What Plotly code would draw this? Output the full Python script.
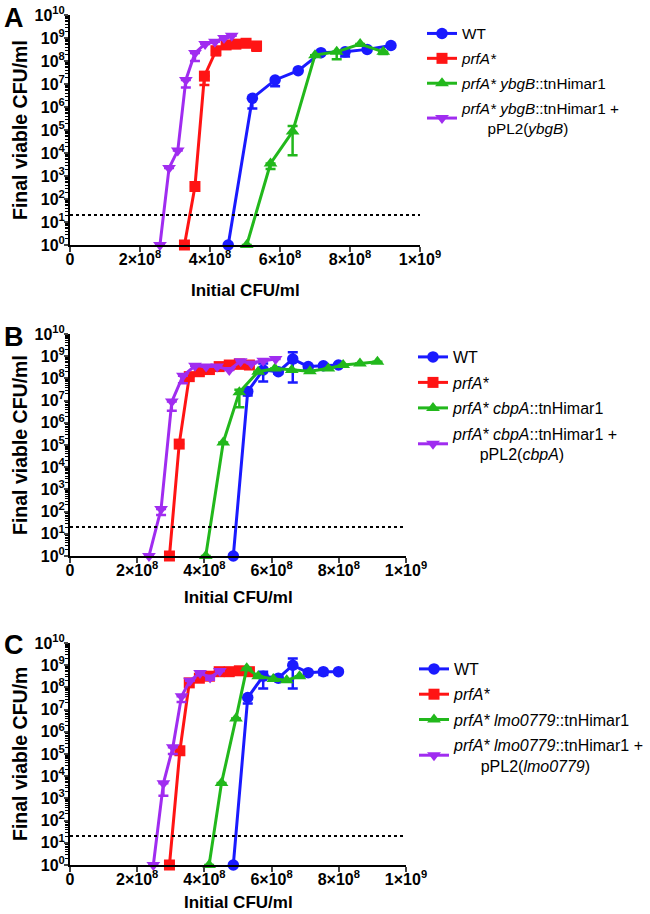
import plotly.graph_objects as go

W, H = 650, 914
FONT = "Liberation Sans"

BLUE = "#1a1aff"
RED = "#ff1414"
GREEN = "#22b81c"
PURPLE = "#a02cf0"

LOD = 20  # detection limit (dotted line)

# ---------------- Panel A ----------------
A_wt_x = [4.52e8, 5.21e8, 5.86e8, 6.52e8, 7.17e8, 7.86e8, 8.49e8, 9.17e8]
A_wt_y = [1, 2.4e6, 1.5e7, 3.8e7, 2.3e8, 2.5e8, 3.2e8, 4.7e8]
A_wt_lo = [None, 8.7e5, 8e6, None, None, 1.55e8, None, None]
A_wt_hi = [None] * 8

A_prf_x = [3.27e8, 3.57e8, 3.84e8, 4.17e8, 4.46e8, 4.74e8, 5.03e8, 5.33e8]
A_prf_y = [1, 350, 2.2e7, 2.8e8, 5e8, 5.4e8, 5.9e8, 4.5e8]
A_prf_lo = [None, None, 9e6, 1.8e8, None, None, None, 2.8e8]
A_prf_hi = [None] * 8

A_mut_x = [5.05e8, 5.73e8, 6.36e8, 7.00e8, 7.62e8, 8.29e8, 8.95e8]
A_mut_y = [1, 3.5e3, 8.5e4, 1.8e8, 2.5e8, 5.5e8, 2.5e8]
A_mut_lo = [None, 2e3, 8e3, None, 1.2e8, None, 2e8]
A_mut_hi = [None, None, 1.5e5, None, None, None, None]

A_cmp_x = [2.57e8, 2.83e8, 3.08e8, 3.31e8, 3.57e8, 3.86e8, 4.14e8, 4.40e8, 4.62e8]
A_cmp_y = [1, 2.2e3, 1.3e4, 1.5e7, 2.2e8, 5.5e8, 6.8e8, 1.0e9, 1.25e9]
A_cmp_lo = [None, None, None, 7e6, 1e8, None, None, None, None]
A_cmp_hi = [None] * 9

# ---------------- Panel B ----------------
B_wt_x = [4.86e8, 5.29e8, 5.75e8, 6.20e8, 6.63e8, 7.09e8, 7.54e8, 7.99e8]
B_wt_y = [1, 2.6e7, 2.4e8, 2.0e8, 7.4e8, 3.4e8, 3.7e8, 4.0e8]
B_wt_lo = [None, 1.7e7, 7.2e7, 1.6e8, 6.5e7, 2.5e8, 2.8e8, None]
B_wt_hi = [None, None, 4.7e8, None, 1.5e9, None, None, None]

B_prf_x = [2.96e8, 3.25e8, 3.55e8, 3.85e8, 4.15e8, 4.44e8, 4.74e8, 5.04e8, 5.34e8]
B_prf_y = [1, 1.1e5, 1.2e8, 2.0e8, 2.5e8, 3.4e8, 4.0e8, 4.5e8, 4.0e8]
B_prf_lo = [None, None, None, None, None, None, 3e8, 2.8e8, None]
B_prf_hi = [None] * 9

B_mut_x = [4.04e8, 4.56e8, 5.04e8, 5.60e8, 6.10e8, 6.60e8, 7.14e8, 7.69e8, 8.13e8, 8.63e8, 9.15e8]
B_mut_y = [1, 1.3e5, 2.4e7, 2.0e8, 2.8e8, 2.4e8, 2.1e8, 2.8e8, 4.0e8, 4.7e8, 5.6e8]
B_mut_lo = [None, None, 5e6, None, None, None, None, None, None, None, None]
B_mut_hi = [None, None, 3.1e7, None, None, None, None, None, None, None, None]

B_cmp_x = [2.35e8, 2.71e8, 3.03e8, 3.36e8, 3.72e8, 4.05e8, 4.38e8, 4.74e8, 5.08e8, 5.40e8, 5.75e8, 6.12e8]
B_cmp_y = [1, 130, 9e6, 1.3e8, 3.7e8, 3.4e8, 3.4e8, 2.4e8, 6.0e8, 4.7e8, 6.2e8, 7.4e8]
B_cmp_lo = [None, 70, 3.5e6, 6e7, None, None, None, None, None, None, None, None]
B_cmp_hi = [None] * 12

# ---------------- Panel C ----------------
C_wt_x = [4.86e8, 5.29e8, 5.75e8, 6.20e8, 6.63e8, 7.09e8, 7.54e8, 7.99e8]
C_wt_y = [1, 3.5e7, 3.2e8, 2.6e8, 1.0e9, 4.6e8, 5.1e8, 5.1e8]
C_wt_lo = [None, 1.9e7, 9e7, 2e8, 9e7, None, 3.6e8, None]
C_wt_hi = [None, None, 5.1e8, None, 2.0e9, None, None, None]

C_prf_x = [2.96e8, 3.27e8, 3.55e8, 3.85e8, 4.15e8, 4.44e8, 4.74e8, 5.04e8, 5.34e8]
C_prf_y = [1, 1.4e5, 1.6e8, 2.6e8, 3.2e8, 5.1e8, 5.1e8, 5.6e8, 5.1e8]
C_prf_lo = [None] * 9
C_prf_hi = [None] * 9

C_mut_x = [4.14e8, 4.51e8, 4.94e8, 5.26e8, 5.60e8, 6.05e8, 6.45e8, 6.83e8]
C_mut_y = [1, 5e3, 4e6, 7.2e8, 3.2e8, 2.4e8, 2.1e8, 3.2e8]
C_mut_lo = [None] * 8
C_mut_hi = [None] * 8

C_cmp_x = [2.48e8, 2.78e8, 3.06e8, 3.32e8, 3.57e8, 3.87e8, 4.17e8, 4.46e8]
C_cmp_y = [1, 4.8e3, 2e5, 4e7, 2e8, 4.5e8, 2.8e8, 5.5e8]
C_cmp_lo = [None, 1.3e3, 1e5, 2.2e7, None, None, 2.2e8, None]
C_cmp_hi = [None] * 8

Y_TICKS = [10 ** n for n in range(0, 11)]
Y_TEXT = ["10<sup>%d</sup>" % n for n in range(0, 11)]
X_TICKS = [0, 2e8, 4e8, 6e8, 8e8, 1e9]
X_TEXT = ["0", "2×10<sup>8</sup>", "4×10<sup>8</sup>", "6×10<sup>8</sup>", "8×10<sup>8</sup>", "1×10<sup>9</sup>"]

IND = "\u00a0" * 6
NAMES = {
    "A": ["WT", "<i>prfA*</i>", "<i>prfA* ybgB</i>::tnHimar1",
          "<i>prfA* ybgB</i>::tnHimar1 +<br>" + IND + "pPL2(<i>ybgB</i>)"],
    "B": ["WT", "<i>prfA*</i>", "<i>prfA* cbpA</i>::tnHimar1",
          "<i>prfA* cbpA</i>::tnHimar1 +<br>" + IND + "pPL2(<i>cbpA</i>)"],
    "C": ["WT", "<i>prfA*</i>", "<i>prfA* lmo0779</i>::tnHimar1",
          "<i>prfA* lmo0779</i>::tnHimar1 +<br>" + IND + "pPL2(<i>lmo0779</i>)"],
}

PANELS = {
    "A": [(A_wt_x, A_wt_y, A_wt_lo, A_wt_hi), (A_prf_x, A_prf_y, A_prf_lo, A_prf_hi),
          (A_mut_x, A_mut_y, A_mut_lo, A_mut_hi), (A_cmp_x, A_cmp_y, A_cmp_lo, A_cmp_hi)],
    "B": [(B_wt_x, B_wt_y, B_wt_lo, B_wt_hi), (B_prf_x, B_prf_y, B_prf_lo, B_prf_hi),
          (B_mut_x, B_mut_y, B_mut_lo, B_mut_hi), (B_cmp_x, B_cmp_y, B_cmp_lo, B_cmp_hi)],
    "C": [(C_wt_x, C_wt_y, C_wt_lo, C_wt_hi), (C_prf_x, C_prf_y, C_prf_lo, C_prf_hi),
          (C_mut_x, C_mut_y, C_mut_lo, C_mut_hi), (C_cmp_x, C_cmp_y, C_cmp_lo, C_cmp_hi)],
}

STYLE = [
    (BLUE, "circle", 11.5),
    (RED, "square", 11),
    (GREEN, "triangle-up", 12),
    (PURPLE, "triangle-down", 12),
]

# pixel geometry of each panel: (x0, x1, ytop, ybottom)
GEOM = {"A": (70, 420, 15, 245), "B": (70, 406, 334, 556), "C": (70, 406, 643, 865)}
YTITLE = {"A": "Final viable CFU/ml", "B": "Final viable CFU/ml", "C": "Final viable CFU/m"}
XTITLE_Y = {"A": 290, "B": 597, "C": 902}
LETTER_Y = {"A": 18, "B": 337, "C": 645}
LEGEND = {"A": (422, 17, 15.3, 2.0), "B": (413, 340, 16, 1.7), "C": (414, 652, 16, 1.5)}

fig = go.Figure()
layout = dict(
    width=W, height=H, margin=dict(l=0, r=0, t=0, b=0, autoexpand=False),
    paper_bgcolor="white", plot_bgcolor="white",
    font=dict(family=FONT, color="black"),
    showlegend=True,
)
annotations = []

for i, key in enumerate(["A", "B", "C"]):
    sfx = "" if i == 0 else str(i + 1)
    xa, ya = "x" + sfx, "y" + sfx
    leg = "legend" + sfx
    for (xs, ys, lo, hi), (col, sym, size), name in zip(PANELS[key], STYLE, NAMES[key]):
        minus = [0 if l is None else y - l for y, l in zip(ys, lo)]
        plus = [0 if h is None else h - y for y, h in zip(ys, hi)]
        fig.add_trace(go.Scatter(
            x=xs, y=ys, mode="lines+markers", name=name,
            xaxis=xa, yaxis=ya, legend=leg, legendgroup=key + name,
            line=dict(color=col, width=3),
            marker=dict(color=col, symbol=sym, size=size),
            error_y=dict(type="data", symmetric=False, array=plus, arrayminus=minus,
                         color=col, thickness=2.5, width=5),
            cliponaxis=False,
        ))
    fig.add_trace(go.Scatter(
        x=[0, 1e9], y=[LOD, LOD], mode="lines", showlegend=False,
        xaxis=xa, yaxis=ya, line=dict(color="black", width=2, dash="dot"),
        hoverinfo="skip",
    ))
    x0, x1, yt, yb = GEOM[key]
    layout["xaxis" + sfx] = dict(
        domain=[x0 / W, x1 / W], anchor=ya, range=[0, 1e9], automargin=False,
        tickvals=X_TICKS, ticktext=X_TEXT, ticks="outside", ticklen=5, tickwidth=2,
        ticklabelstandoff=-6,
        showline=True, linewidth=2, linecolor="black", showgrid=False, zeroline=False,
        tickfont=dict(size=16, weight="bold", family=FONT),
    )
    layout["yaxis" + sfx] = dict(
        domain=[1 - yb / H, 1 - yt / H], anchor=xa, type="log", range=[0, 10], automargin=False,
        tickvals=Y_TICKS, ticktext=Y_TEXT, ticks="outside", ticklen=4, tickwidth=2,
        ticklabelstandoff=-4,
        showline=True, linewidth=2, linecolor="black", showgrid=False, zeroline=False,
        tickfont=dict(size=16, weight="bold", family=FONT),
        minor=dict(ticks="outside", ticklen=3, tickwidth=1, tickcolor="black",
                   tickvals=[k * 10 ** n for n in range(0, 10) for k in range(2, 10)]),
    )
    lx, ltop, lfs, lgap = LEGEND[key]
    layout[leg] = dict(
        x=lx / W, y=1 - ltop / H, xanchor="left", yanchor="top",
        bgcolor="rgba(0,0,0,0)", font=dict(size=lfs, family=FONT, color="black"),
        tracegroupgap=lgap, itemsizing="trace",
    )
    # panel letter
    annotations.append(dict(
        text="<b>" + key + "</b>", x=14 / W, y=1 - LETTER_Y[key] / H, xref="paper", yref="paper",
        xanchor="center", yanchor="middle", showarrow=False,
        font=dict(size=27, family=FONT, color="black"),
    ))
    # axis titles
    annotations.append(dict(
        text="<b>Initial CFU/ml</b>", x=(x0 + x1) / 2 / W, y=1 - XTITLE_Y[key] / H,
        xref="paper", yref="paper", xanchor="center", yanchor="middle", showarrow=False,
        font=dict(size=17, family=FONT, color="black"),
    ))
    annotations.append(dict(
        text="<b>" + YTITLE[key] + "</b>", x=20 / W, y=1 - (yt + yb) / 2 / H,
        xref="paper", yref="paper", xanchor="center", yanchor="middle", showarrow=False,
        textangle=-90, font=dict(size=19.5, family=FONT, color="black"),
    ))

layout["annotations"] = annotations
fig.update_layout(**layout)
fig.write_html("out.html", config={"displayModeBar": False},
               post_script="document.body.style.margin='0';document.body.style.padding='0';")
